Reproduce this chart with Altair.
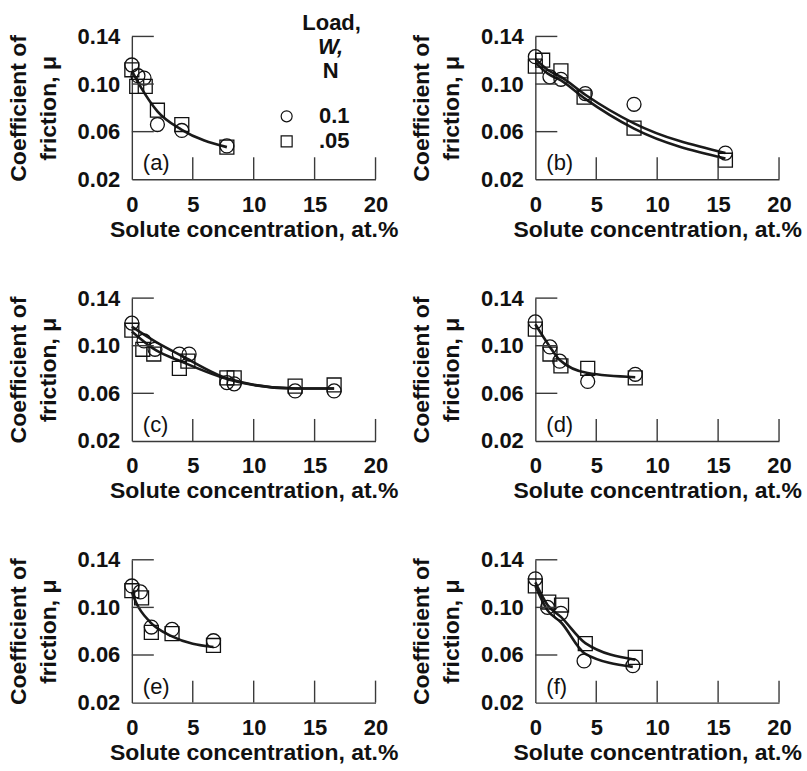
import altair as alt
import pandas as pd

FONT = "Liberation Sans"
W, H = 244, 143
AXIS_COLOR = "#3a3a3a"
INK = "#111111"

# ---- data -------------------------------------------------------------
x_tick_values = [0, 5, 10, 15, 20]
y_tick_values = [0.02, 0.06, 0.10, 0.14]
inner_x_ticks = [5, 10, 15, 20]
inner_y_ticks = [0.06, 0.10, 0.14]
load_labels = ["0.1", ".05"]

# (a)
a_circle_x = [0, 0.5, 1.0, 2.1, 4.1, 7.8]
a_circle_y = [0.116, 0.107, 0.105, 0.066, 0.061, 0.048]
a_square_x = [0, 0.4, 1.1, 2.1, 4.1, 7.8]
a_square_y = [0.112, 0.098, 0.098, 0.078, 0.066, 0.047]
a_fit_x = [0, 0.7, 2.1, 4.1, 7.8]
a_fit_y = [0.111, 0.098, 0.077, 0.0615, 0.047]

# (b)
b_circle_x = [0, 1.2, 2.1, 4.1, 8.1, 15.6]
b_circle_y = [0.123, 0.106, 0.104, 0.092, 0.083, 0.042]
b_square_x = [0, 0.6, 2.1, 4.0, 8.1, 15.6]
b_square_y = [0.115, 0.120, 0.111, 0.089, 0.063, 0.036]
b_fit1_x = [0, 1.0, 2.1, 4.1, 8.1, 15.6]
b_fit1_y = [0.121, 0.112, 0.106, 0.091, 0.067, 0.042]
b_fit2_x = [0, 1.0, 2.1, 4.1, 8.1, 15.6]
b_fit2_y = [0.118, 0.109, 0.103, 0.0875, 0.0625, 0.0375]

# (c)
c_circle_x = [0, 1.0, 1.9, 3.9, 4.7, 7.8, 8.4, 13.4, 16.6]
c_circle_y = [0.119, 0.104, 0.097, 0.093, 0.093, 0.069, 0.068, 0.062, 0.062]
c_square_x = [0, 0.9, 1.8, 3.9, 4.6, 7.8, 8.4, 13.4, 16.6]
c_square_y = [0.113, 0.097, 0.093, 0.081, 0.087, 0.073, 0.073, 0.066, 0.067]
c_fit1_x = [0, 2.0, 4.0, 8.0, 13.4, 16.6]
c_fit1_y = [0.116, 0.103, 0.092, 0.072, 0.064, 0.064]
c_fit2_x = [0, 2.0, 4.0, 8.0, 13.4, 16.6]
c_fit2_y = [0.112, 0.096, 0.087, 0.0715, 0.064, 0.064]

# (d)
d_circle_x = [0, 1.2, 2.0, 4.3, 8.2]
d_circle_y = [0.120, 0.099, 0.087, 0.070, 0.076]
d_square_x = [0, 1.2, 2.1, 4.3, 8.2]
d_square_y = [0.114, 0.093, 0.083, 0.081, 0.073]
d_fit_x = [0, 1.2, 2.0, 4.3, 8.2]
d_fit_y = [0.118, 0.099, 0.088, 0.077, 0.0735]

# (e)
e_circle_x = [0, 0.7, 1.6, 3.3, 6.7]
e_circle_y = [0.118, 0.113, 0.0835, 0.0815, 0.072]
e_square_x = [0, 0.8, 1.6, 3.3, 6.7]
e_square_y = [0.114, 0.108, 0.079, 0.078, 0.068]
e_fit_x = [0, 0.4, 1.5, 3.3, 6.7]
e_fit_y = [0.113, 0.103, 0.0877, 0.0757, 0.0667]

# (f)
f_circle_x = [0, 1.0, 2.1, 4.0, 8.0]
f_circle_y = [0.124, 0.100, 0.095, 0.055, 0.051]
f_square_x = [0, 1.1, 2.15, 4.1, 8.2]
f_square_y = [0.118, 0.1045, 0.102, 0.0695, 0.058]
f_fit1_x = [0, 1.0, 2.1, 4.1, 8.2]
f_fit1_y = [0.121, 0.102, 0.092, 0.070, 0.056]
f_fit2_x = [0, 1.0, 2.1, 4.1, 8.0]
f_fit2_y = [0.118, 0.0975, 0.0875, 0.061, 0.050]


def make_panel(label, cx, cy, sx, sy, fits, show_legend=False):
    pts = pd.DataFrame({
        "conc": cx + sx,
        "mu": cy + sy,
        "load": [load_labels[0]] * len(cx) + [load_labels[1]] * len(sx),
    })
    rows = []
    for i, (fx, fy) in enumerate(fits):
        for xv, yv in zip(fx, fy):
            rows.append({"conc": xv, "mu": yv, "curve": i})
    fit_df = pd.DataFrame(rows)

    xs = alt.Scale(domain=[0, 20], nice=False, zero=False)
    ys = alt.Scale(domain=[0.02, 0.14], nice=False, zero=False)
    x_axis = alt.Axis(values=x_tick_values, format="d", ticks=False, tickSize=0,
                      domain=True, grid=False, labelFlush=False,
                      labelPadding=15, titlePadding=3,
                      title="Solute concentration, at.%")
    y_axis = alt.Axis(values=y_tick_values, format=".2f", ticks=False, tickSize=0,
                      domain=True, grid=False, labelFlush=False,
                      labelPadding=12, titlePadding=17,
                      title=["Coefficient of", "friction, \u03bc"])

    lines = alt.Chart(fit_df).mark_line(
        interpolate="monotone", color="#1a1a1a", strokeWidth=2.6
    ).encode(
        x=alt.X("conc:Q", scale=xs, axis=x_axis),
        y=alt.Y("mu:Q", scale=ys, axis=y_axis),
        detail="curve:N",
    )

    if show_legend:
        legend = alt.Legend(orient="none", legendX=144, legendY=69, title=None,
                            symbolSize=121, symbolStrokeWidth=1.2,
                            symbolStrokeColor=INK, symbolFillColor="transparent",
                            labelFontSize=22, labelFont=FONT, labelFontWeight="bold",
                            labelColor=INK, labelAlign="right", labelOffset=52,
                            padding=0, rowPadding=3)
    else:
        legend = None

    points = alt.Chart(pts).mark_point(
        filled=False, size=195, strokeWidth=1.3, color=INK, opacity=1
    ).encode(
        x=alt.X("conc:Q", scale=xs),
        y=alt.Y("mu:Q", scale=ys),
        shape=alt.Shape("load:N",
                        scale=alt.Scale(domain=load_labels, range=["circle", "square"]),
                        legend=legend),
    )

    xt = alt.Chart(pd.DataFrame({"conc": inner_x_ticks})).mark_rule(
        color=AXIS_COLOR, strokeWidth=1.4
    ).encode(x=alt.X("conc:Q", scale=xs), y=alt.value(H), y2=alt.value(H - 22))
    yt = alt.Chart(pd.DataFrame({"mu": inner_y_ticks})).mark_rule(
        color=AXIS_COLOR, strokeWidth=1.4
    ).encode(y=alt.Y("mu:Q", scale=ys), x=alt.value(0), x2=alt.value(22))

    lab = alt.Chart(pd.DataFrame({"label": [label]})).mark_text(
        align="left", baseline="alphabetic", fontSize=22, font=FONT, color=INK
    ).encode(x=alt.value(11), y=alt.value(H - 9), text="label:N")

    layers = [lines, points, xt, yt, lab]

    if show_legend:
        t1 = alt.Chart(pd.DataFrame({"t": ["Load,"]})).mark_text(
            align="center", baseline="alphabetic", fontSize=22, font=FONT,
            fontWeight="bold", color=INK
        ).encode(x=alt.value(200), y=alt.value(-6), text="t:N")
        t2 = alt.Chart(pd.DataFrame({"t": ["W,"]})).mark_text(
            align="center", baseline="alphabetic", fontSize=22, font=FONT,
            fontWeight="bold", fontStyle="italic", color=INK
        ).encode(x=alt.value(199), y=alt.value(18), text="t:N")
        t3 = alt.Chart(pd.DataFrame({"t": ["N"]})).mark_text(
            align="center", baseline="alphabetic", fontSize=22, font=FONT,
            fontWeight="bold", color=INK
        ).encode(x=alt.value(199), y=alt.value(42), text="t:N")
        layers += [t1, t2, t3]

    return alt.layer(*layers).properties(width=W, height=H)


pa = make_panel("(a)", a_circle_x, a_circle_y, a_square_x, a_square_y,
                [(a_fit_x, a_fit_y)], show_legend=True)
pb = make_panel("(b)", b_circle_x, b_circle_y, b_square_x, b_square_y,
                [(b_fit1_x, b_fit1_y), (b_fit2_x, b_fit2_y)])
pc = make_panel("(c)", c_circle_x, c_circle_y, c_square_x, c_square_y,
                [(c_fit1_x, c_fit1_y), (c_fit2_x, c_fit2_y)])
pd_ = make_panel("(d)", d_circle_x, d_circle_y, d_square_x, d_square_y,
                 [(d_fit_x, d_fit_y)])
pe = make_panel("(e)", e_circle_x, e_circle_y, e_square_x, e_square_y,
                [(e_fit_x, e_fit_y)])
pf = make_panel("(f)", f_circle_x, f_circle_y, f_square_x, f_square_y,
                [(f_fit1_x, f_fit1_y), (f_fit2_x, f_fit2_y)])

chart = alt.concat(
    pa, pb, pc, pd_, pe, pf, columns=2,
    spacing=alt.RowColnumber(row=119, column=160), bounds="flush"
).resolve_scale(shape="independent").resolve_legend(shape="independent").properties(
    padding={"left": 7, "top": 12, "right": 5, "bottom": 5}
).configure(font=FONT).configure_view(stroke=None).configure_axis(
    domainColor=AXIS_COLOR, domainWidth=1.4,
    labelFont=FONT, labelFontSize=22, labelFontWeight="bold", labelColor=INK,
    titleFont=FONT, titleFontSize=23, titleFontWeight="bold", titleColor=INK,
    titleLineHeight=30,
)

chart.save("out.html", embed_options={"renderer": "svg", "actions": False})
